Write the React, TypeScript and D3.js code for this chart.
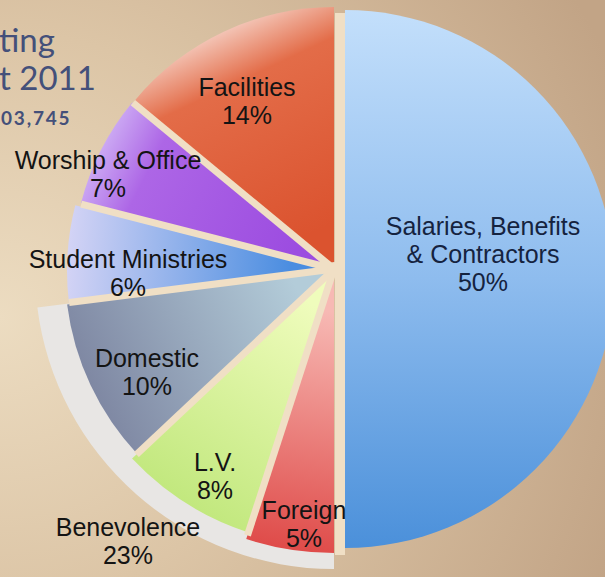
import React from "react";
import * as d3 from "d3";

// slice order runs clockwise from 12 o'clock
const categories = [
  "Salaries, Benefits & Contractors",
  "Foreign",
  "L.V.",
  "Domestic",
  "Student Ministries",
  "Worship & Office",
  "Facilities",
];
const shares = [50, 5, 8, 10, 6, 7, 14];
const ringCategory = "Benevolence";
const ringMembers = ["Foreign", "L.V.", "Domestic"];
const titleLines = ["ting", "t 2011"];
const totalText = "03,745";

const W = 605;
const H = 577;
const cx = 334;
const cy = 269;

// per-slice look: radius, shift, gradient (inner -> outer), label spot (first baseline)
const look: Record<string, any> = {
  "Salaries, Benefits & Contractors": { r: 269, dx: 11, dy: 10, lx: 483, ly: 235, ink: "#15233f", lines: ["Salaries, Benefits", "& Contractors"] },
  Foreign: { r: 284, dx: 0, dy: 0, c0: "#f7b9b4", c1: "#df4b49", lx: 304, ly: 519 },
  "L.V.": { r: 277, dx: 0, dy: 0, c0: "#effcbc", c1: "#c2e87e", lx: 215, ly: 471 },
  Domestic: { r: 268, dx: -1, dy: 2, c0: "#b3ccd9", c1: "#7f88a3", lx: 147, ly: 367 },
  "Student Ministries": { r: 264, dx: -3, dy: 2, c0: "#4a8de0", c1: "#d3d3f5", lx: 128, ly: 268 },
  "Worship & Office": { r: 258, dx: -3, dy: -2, c0: "#9c4ce0", c1: "#cba8f3", mid: "#ad66e6", lx: 108, ly: 169 },
  Facilities: { r: 259, dx: 0, dy: -3, c0: "#db532f", c1: "#f3c3b4", mid: "#e36c48", lx: 247, ly: 96 },
};

export default function App() {
  const data = categories.map((name, i) => ({ name, value: shares[i] }));
  const pie = d3.pie<any>().sort(null).value((d) => d.value);
  const arcs = pie(data);
  const arc = d3.arc<any>().innerRadius(0);

  const ringArcs = arcs.filter((a) => ringMembers.includes(a.data.name));
  const ringStart = d3.min(ringArcs, (a) => a.startAngle) as number;
  const ringEnd = d3.max(ringArcs, (a) => a.endAngle) as number;
  const ringShare = d3.sum(ringArcs, (a) => a.data.value);
  const ringPath = d3.arc()({ innerRadius: 255, outerRadius: 299, startAngle: ringStart, endAngle: ringEnd }) as string;

  // boundary rays between slices
  const bounds = arcs.map((a, i) => {
    const prev = arcs[(i - 1 + arcs.length) % arcs.length];
    const len = Math.min(look[a.data.name].r, look[prev.data.name].r) + 3;
    return { angle: a.startAngle, len, wide: i === 0 || i === 1 };
  });
  const facR = look["Facilities"].r + 6;
  const forR = look["Foreign"].r + 2;

  const font = "'Liberation Sans', Arial, sans-serif";
  const fs = 25;
  const lh = 28;

  return (
    <svg width={W} height={H} style={{ position: "absolute", left: 0, top: 0 }}>
      <defs>
        <radialGradient id="bg" cx="0" cy="0.55" r="1.1">
          <stop offset="0" stopColor="#ecdcc1" />
          <stop offset="0.45" stopColor="#dcc5a6" />
          <stop offset="1" stopColor="#c2a486" />
        </radialGradient>
        <linearGradient id="sal" x1="0" y1="0" x2="0" y2="1">
          <stop offset="0" stopColor="#c3dffb" />
          <stop offset="0.5" stopColor="#8ebcee" />
          <stop offset="1" stopColor="#4b90da" />
        </linearGradient>
        <radialGradient id="ring" gradientUnits="userSpaceOnUse" cx={cx} cy={cy} r={299}>
          <stop offset="0.86" stopColor="#e2e3e5" />
          <stop offset="0.93" stopColor="#f1f0ef" />
          <stop offset="1" stopColor="#e8e6e4" />
        </radialGradient>
        {arcs.slice(1).map((a, i) => {
          const s = look[a.data.name];
          const m = (a.startAngle + a.endAngle) / 2;
          return (
            <linearGradient key={i} id={`g${i + 1}`} gradientUnits="userSpaceOnUse"
              x1={0} y1={0} x2={Math.sin(m) * s.r} y2={-Math.cos(m) * s.r}>
              <stop offset="0.15" stopColor={s.c0} />
              {s.mid ? <stop offset="0.8" stopColor={s.mid} /> : null}
              <stop offset="1" stopColor={s.c1} />
            </linearGradient>
          );
        })}
      </defs>

      <rect width={W} height={H} fill="url(#bg)" />

      <path d={ringPath} transform={`translate(${cx},${cy + 1})`} fill="url(#ring)" />

      {arcs.map((a, i) => {
        const s = look[a.data.name];
        return (
          <path key={a.data.name}
            d={arc.outerRadius(s.r)(a) as string}
            transform={`translate(${cx + s.dx},${cy + s.dy})`}
            fill={i === 0 ? "url(#sal)" : `url(#g${i})`} />
        );
      })}

      <g transform={`translate(${cx},${cy})`} stroke="#f0dfc5" strokeLinecap="butt">
        {bounds.filter((b) => !b.wide).map((b, i) => (
          <line key={i} x1={0} y1={0}
            x2={Math.sin(b.angle) * b.len} y2={-Math.cos(b.angle) * b.len}
            strokeWidth={7} />
        ))}
        {/* salaries sits apart from the rest */}
        <line x1={6} x2={6} y1={-facR + 9} y2={forR} strokeWidth={10} />
        <circle r={7} fill="#f0dfc5" stroke="none" />
      </g>

      {arcs.map((a) => {
        const s = look[a.data.name];
        const lines: string[] = s.lines ?? [a.data.name];
        return (
          <text key={a.data.name} fontFamily={font} fontSize={fs} fill={s.ink ?? "#141414"} textAnchor="middle">
            {lines.map((t, j) => (
              <tspan key={j} x={s.lx} y={s.ly + j * lh}>{t}</tspan>
            ))}
            <tspan x={s.lx} y={s.ly + lines.length * lh}>{a.data.value}%</tspan>
          </text>
        );
      })}

      <text fontFamily={font} fontSize={fs} fill="#141414" textAnchor="middle">
        <tspan x={128} y={536}>{ringCategory}</tspan>
        <tspan x={128} y={536 + lh}>{ringShare}%</tspan>
      </text>

      <g fontFamily="Lato, 'Open Sans', sans-serif" fill="#44507a">
        {titleLines.map((t, i) => (
          <text key={i} x={-1} y={52 + i * 38} fontSize={33} fontWeight={400}>{t}</text>
        ))}
        <text x={1} y={125} fontSize={19} fontWeight={700} letterSpacing={1.8}>{totalText}</text>
      </g>
    </svg>
  );
}
